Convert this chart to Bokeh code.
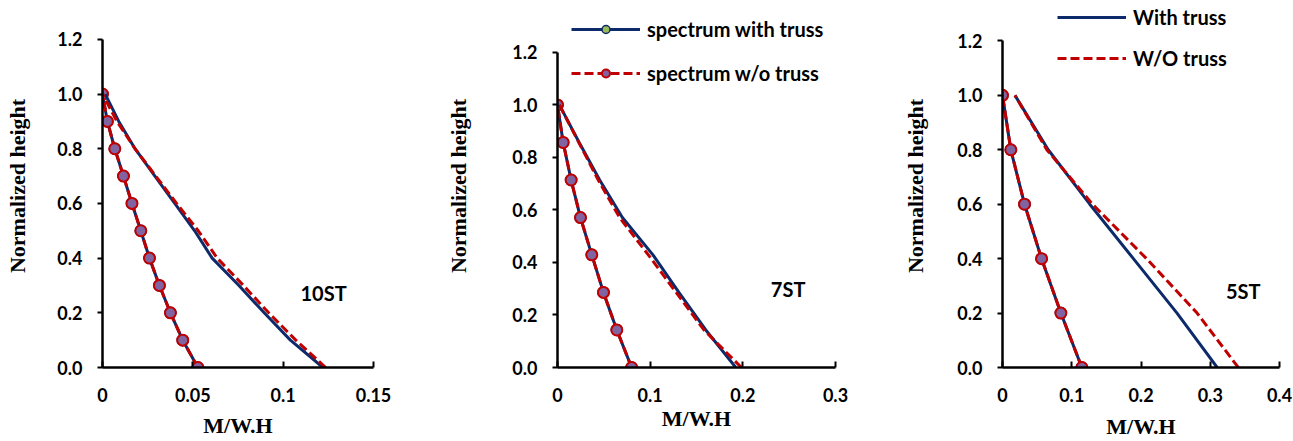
from bokeh.plotting import figure
from bokeh.layouts import row
from bokeh.models import FixedTicker, PrintfTickFormatter, Legend, LegendItem, Label
from bokeh.embed import file_html
from bokeh.resources import INLINE

# ---------------- data ----------------
y_ticks = [0.0, 0.2, 0.4, 0.6, 0.8, 1.0, 1.2]

# 10-storey
h10 = [0.0, 0.1, 0.2, 0.3, 0.4, 0.5, 0.6, 0.7, 0.8, 0.9, 1.0]
spec10_with = [0.0528, 0.0444, 0.0376, 0.0315, 0.0260, 0.0212, 0.0163, 0.0116, 0.0068, 0.0027, 0.0]
spec10_wo = [0.0528, 0.0444, 0.0376, 0.0315, 0.0260, 0.0212, 0.0163, 0.0116, 0.0068, 0.0027, 0.0]
th10_with = [0.1220, 0.1040, 0.0895, 0.0755, 0.0607, 0.0510, 0.0400, 0.0290, 0.0180, 0.0090, 0.0015]
th10_wo = [0.1235, 0.1070, 0.0920, 0.0780, 0.0635, 0.0530, 0.0410, 0.0295, 0.0180, 0.0080, 0.0]
x10_ticks = [0.0, 0.05, 0.1, 0.15]
x10_labels = ["0", "0.05", "0.1", "0.15"]

# 7-storey
h7 = [0.0, 0.143, 0.286, 0.429, 0.571, 0.714, 0.857, 1.0]
spec7_with = [0.0800, 0.0640, 0.0496, 0.0370, 0.0248, 0.0147, 0.0061, 0.0]
spec7_wo = [0.0800, 0.0640, 0.0496, 0.0370, 0.0248, 0.0147, 0.0061, 0.0]
th7_with = [0.1924, 0.1600, 0.1310, 0.1030, 0.0700, 0.0455, 0.0234, 0.0020]
th7_wo = [0.1985, 0.1580, 0.1280, 0.0980, 0.0670, 0.0440, 0.0230, 0.0020]
x7_ticks = [0.0, 0.1, 0.2, 0.3]
x7_labels = ["0", "0.1", "0.2", "0.3"]

# 5-storey
h5 = [0.0, 0.2, 0.4, 0.6, 0.8, 1.0]
spec5_with = [0.1146, 0.0843, 0.0564, 0.0318, 0.0120, 0.0]
spec5_wo = [0.1146, 0.0843, 0.0564, 0.0318, 0.0120, 0.0]
th5_with = [0.3100, 0.2520, 0.1890, 0.1260, 0.0660, 0.0180]
th5_wo = [0.3405, 0.2810, 0.2080, 0.1300, 0.0640, 0.0180]
x5_ticks = [0.0, 0.1, 0.2, 0.3, 0.4]
x5_labels = ["0", "0.1", "0.2", "0.3", "0.4"]

NAVY = "#0D2A6A"
RED = "#C00000"
PURPLE = "#8064A2"
GREEN = "#9BBB59"
TICK_FONT = "Lato"
SERIF = "Liberation Serif"

H = 441
TOP = 4
BOTTOM = 73


def make_panel(width, left, right, xmax, ytop, ylab_standoff, xlab_standoff,
               xt, xl, h, sw, swo, tw, two, tag, tag_xy):
    p = figure(width=width, height=H, output_backend="svg", toolbar_location=None,
               x_range=(0, xmax), y_range=(0, ytop),
               min_border_left=left, min_border_right=right,
               min_border_top=TOP, min_border_bottom=BOTTOM)
    p.xgrid.visible = False
    p.ygrid.visible = False
    p.outline_line_color = None
    p.background_fill_color = "white"

    for ax in (p.xaxis[0], p.yaxis[0]):
        ax.axis_line_color = "black"
        ax.axis_line_width = 2.5
        ax.major_tick_line_color = "black"
        ax.major_tick_line_width = 2
        ax.minor_tick_line_color = None
        ax.major_label_text_font = TICK_FONT
        ax.major_label_text_font_style = "bold"
        ax.major_label_text_font_size = "18px"
        ax.major_label_text_color = "black"
        ax.axis_label_text_font = SERIF
        ax.axis_label_text_font_style = "bold"
        ax.axis_label_text_font_size = "22px"
        ax.axis_label_text_color = "black"

    p.xaxis.ticker = FixedTicker(ticks=xt)
    p.xaxis.major_label_overrides = {t: s for t, s in zip(xt, xl)}
    p.xaxis.major_tick_in = 6
    p.xaxis.major_tick_out = 0
    p.xaxis.major_label_standoff = 20
    p.xaxis.axis_label = "M/W.H"
    p.xaxis.axis_label_standoff = xlab_standoff

    p.yaxis.ticker = FixedTicker(ticks=y_ticks)
    p.yaxis.formatter = PrintfTickFormatter(format="%.1f")
    p.yaxis.bounds = (0, 1.2)
    p.yaxis.major_tick_in = 0
    p.yaxis.major_tick_out = 5
    p.yaxis.major_label_standoff = 15
    p.yaxis.axis_label = "Normalized height"
    p.yaxis.axis_label_standoff = ylab_standoff

    # response-spectrum series (with markers)
    l1 = p.line(sw, h, line_color=NAVY, line_width=3)
    s1 = p.scatter(sw, h, marker="circle", size=11, fill_color=GREEN, line_color=NAVY, line_width=1.5)
    l2 = p.line(swo, h, line_color=RED, line_width=3, line_dash="9 4")
    s2 = p.scatter(swo, h, marker="circle", size=11, fill_color=PURPLE, line_color=RED, line_width=2)
    # time-history series (lines only)
    l3 = p.line(tw, h, line_color=NAVY, line_width=3)
    l4 = p.line(two, h, line_color=RED, line_width=3, line_dash="9 4")

    p.add_layout(Label(x=tag_xy[0], y=tag_xy[1], text=tag, text_font=TICK_FONT,
                       text_font_style="bold", text_font_size="20px", text_color="black",
                       text_baseline="middle", text_align="left"))
    return p, (l1, s1, l2, s2, l3, l4)


def style_legend(lg, spacing):
    lg.label_text_font = TICK_FONT
    lg.label_text_font_style = "bold"
    lg.label_text_font_size = "20px"
    lg.label_text_color = "black"
    lg.glyph_width = 69
    lg.glyph_height = 20
    lg.label_height = 20
    lg.label_standoff = 7
    lg.spacing = spacing
    lg.padding = 0
    lg.margin = 0
    lg.border_line_color = None
    lg.background_fill_alpha = 0


p1, r1 = make_panel(440, 102, 67, 0.15, 1.3275, 24, 8, x10_ticks, x10_labels,
                    h10, spec10_with, spec10_wo, th10_with, th10_wo, "10ST", (0.1096, 0.2735))
p2, r2 = make_panel(450, 117, 55, 0.3, 1.3824, 38, 1, x7_ticks, x7_labels,
                    h7, spec7_with, spec7_wo, th7_with, th7_wo, "7ST", (0.2302, 0.298))
p3, r3 = make_panel(402, 112, 13, 0.4, 1.3338, 26, 9, x5_ticks, x5_labels,
                    h5, spec5_with, spec5_wo, th5_with, th5_wo, "5ST", (0.3227, 0.282))

lg2 = Legend(items=[LegendItem(label="spectrum with truss", renderers=[r2[0], r2[1]]),
                    LegendItem(label="spectrum w/o truss", renderers=[r2[2], r2[3]])],
             location=(14, 282))
style_legend(lg2, 20)
p2.add_layout(lg2)

lg3 = Legend(items=[LegendItem(label="With truss", renderers=[r3[4]]),
                    LegendItem(label="W/O truss", renderers=[r3[5]])],
             location=(55, 297))
style_legend(lg3, 17)
p3.add_layout(lg3)

layout = row(p1, p2, p3)
open("out.html", "w").write(file_html(layout, INLINE))
